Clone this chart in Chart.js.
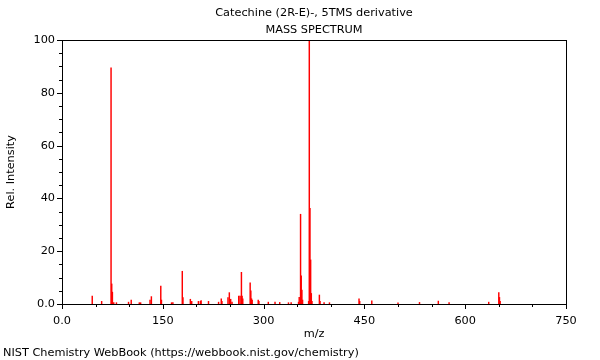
<!DOCTYPE html>
<html>
<head>
<meta charset="utf-8">
<script src="https://cdn.jsdelivr.net/npm/chart.js@4"></script>
<style>
  html, body { margin: 0; padding: 0; background: #fff; }
  #wrap { width: 600px; height: 360px; }
</style>
</head>
<body>
<div id="wrap"><canvas id="spectrum" width="600" height="360"></canvas></div>
<script>
// --- Données du spectre ---
const mz = [45, 59, 73, 74, 75, 77, 81, 99, 103, 115, 117, 131, 133, 147, 148, 163, 165,
  179, 180, 191, 193, 203, 206, 207, 218, 233, 237, 238, 247, 249, 251, 253,
  263, 265, 267, 268, 269, 280, 281, 282, 283, 292, 293, 307, 317, 324, 337, 341,
  352, 353, 355, 356, 357, 358, 367, 368, 369, 370, 371, 372, 383, 384, 390, 398,
  442, 443, 461, 500, 532, 560, 576, 635, 650, 651, 652];
const intensity = [3.0, 1.0, 89.5, 7.6, 4.5, 0.5, 0.5, 0.7, 1.5, 0.5, 0.5, 1.5, 2.8, 6.8, 1.5, 0.5, 0.5,
  12.4, 2.4, 1.8, 1.0, 1.0, 1.0, 1.3, 1.0, 0.7, 2.0, 1.0, 2.4, 4.3, 1.8, 0.7,
  3.0, 3.0, 12.0, 3.0, 2.0, 8.0, 5.0, 2.0, 1.5, 1.5, 1.0, 0.7, 0.7, 0.6, 0.5, 0.5,
  0.7, 2.5, 34.0, 10.7, 5.3, 1.5, 1.0, 100, 36.2, 16.7, 4.0, 1.0, 3.4, 1.0, 0.5, 0.5,
  2.0, 1.0, 1.2, 0.4, 0.6, 1.1, 0.5, 0.7, 4.3, 2.5, 1.0];

const xTickLabels = ['0.0', '150', '300', '450', '600', '750'];
const yTickLabels = ['0.0', '20', '40', '60', '80', '100'];

const title1 = 'Catechine (2R-E)-, 5TMS derivative';
const title2 = 'MASS SPECTRUM';
const footer = 'NIST Chemistry WebBook (https://webbook.nist.gov/chemistry)';

const FONT = '11.3px "DejaVu Sans", sans-serif';

// --- Cadre, graduations et textes ---
const decorPlugin = {
  id: 'decor',
  afterDraw(chart) {
    const ctx = chart.ctx;
    const a = chart.chartArea;
    const xs = chart.scales.x, ys = chart.scales.y;
    ctx.save();
    ctx.strokeStyle = '#000';
    ctx.lineWidth = 1;
    ctx.strokeRect(Math.round(a.left) + 0.5, Math.round(a.top) + 0.5,
      Math.round(a.right - a.left), Math.round(a.bottom - a.top));

    ctx.beginPath();
    for (let v = 0; v <= 750; v += 50) {
      const px = Math.round(xs.getPixelForValue(v)) + 0.5;
      const len = v % 150 === 0 ? 5 : 3;
      ctx.moveTo(px, a.bottom);
      ctx.lineTo(px, a.bottom + len);
    }
    for (let v = 0; v <= 100; v += 5) {
      const py = Math.round(ys.getPixelForValue(v)) + 0.5;
      const len = v % 20 === 0 ? 5 : 3;
      ctx.moveTo(a.left, py);
      ctx.lineTo(a.left - len, py);
    }
    ctx.stroke();

    ctx.fillStyle = '#000';
    ctx.font = FONT;
    ctx.textBaseline = 'middle';
    ctx.textAlign = 'center';
    const cx = (a.left + a.right) / 2;
    ctx.fillText(title1, cx, 13);
    ctx.fillText(title2, cx, 30);
    ctx.fillText('m/z', cx, 334);
    ctx.textAlign = 'left';
    ctx.fillText(footer, 3, 353);

    ctx.translate(11, (a.top + a.bottom) / 2);
    ctx.rotate(-Math.PI / 2);
    ctx.textAlign = 'center';
    ctx.fillText('Rel. Intensity', 0, 0);
    ctx.restore();
  }
};

document.addEventListener("DOMContentLoaded", () => {
  const ctx = document.getElementById("spectrum").getContext("2d");
  new Chart(ctx, {
    type: 'bar',
    data: {
      datasets: [{
        data: mz.map((m, i) => ({ x: m, y: intensity[i] })),
        backgroundColor: 'rgb(255,0,0)',
        barThickness: 0.8,
        borderWidth: 0
      }]
    },
    options: {
      responsive: false,
      animation: false,
      events: [],
      layout: { padding: { left: 0, top: 40, right: 34, bottom: 0 } },
      plugins: { legend: { display: false }, tooltip: { enabled: false } },
      scales: {
        x: {
          type: 'linear', min: 0, max: 750, offset: false,
          afterFit: s => { s.height = 56; },
          grid: { display: false, drawTicks: false },
          border: { display: false },
          ticks: {
            stepSize: 50, autoSkip: false, maxRotation: 0, padding: 10,
            color: '#000', font: { family: 'DejaVu Sans', size: 11.3 },
            callback: v => v % 150 === 0 ? xTickLabels[v / 150] : ''
          }
        },
        y: {
          min: 0, max: 100,
          afterFit: s => { s.width = 62; },
          grid: { display: false, drawTicks: false },
          border: { display: false },
          ticks: {
            stepSize: 5, autoSkip: false, padding: 7,
            color: '#000', font: { family: 'DejaVu Sans', size: 11.3 },
            callback: v => v % 20 === 0 ? yTickLabels[v / 20] : ''
          }
        }
      }
    },
    plugins: [decorPlugin]
  });
});
</script>
</body>
</html>
